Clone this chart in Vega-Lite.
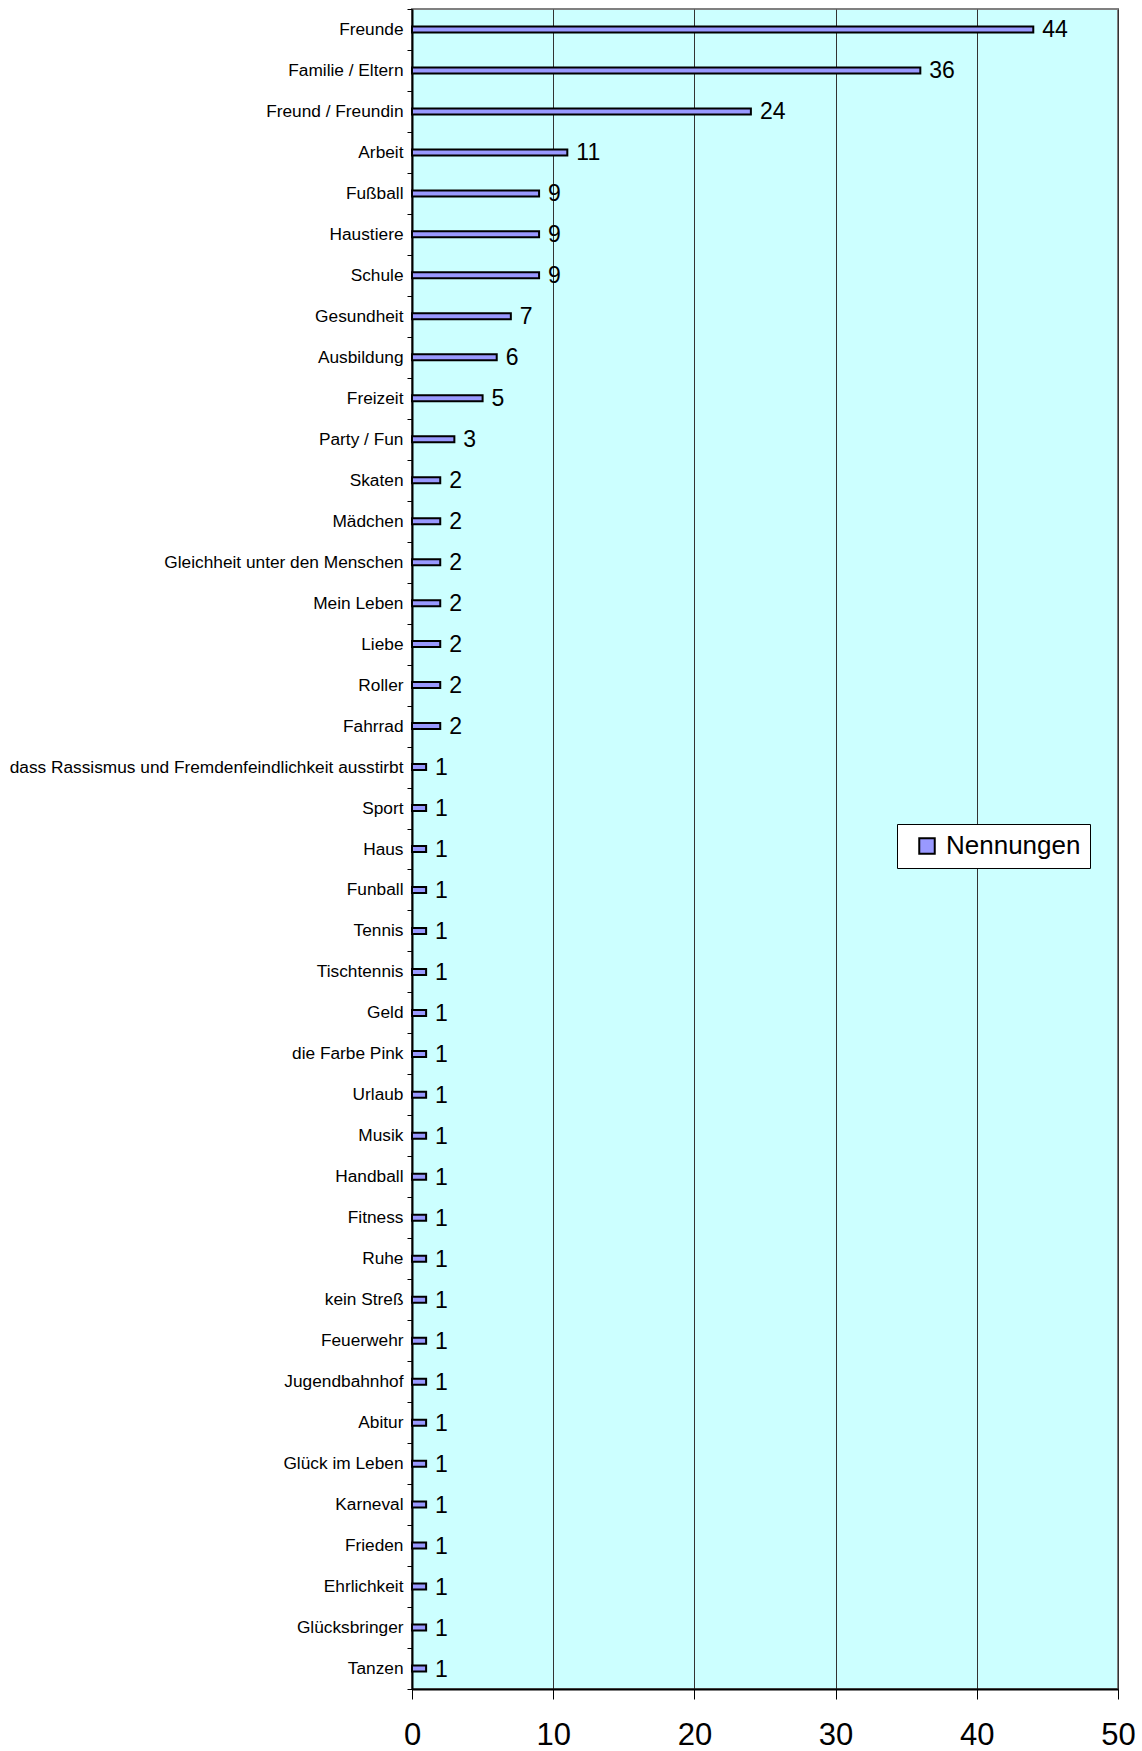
{
  "$schema": "https://vega.github.io/schema/vega-lite/v6.json",
  "autosize": {"type": "none"},
  "padding": {"left": 412, "top": 9, "right": 24, "bottom": 62},
  "width": 706,
  "height": 1680,
  "background": "white",
  "config": {
    "font": "Liberation Sans",
    "view": {"fill": "#CCFFFF", "stroke": "#808080", "strokeWidth": 2}
  },
  "data": {
    "values": [
      {"item": "Freunde", "n": 44, "s": "Nennungen"},
      {"item": "Familie / Eltern", "n": 36, "s": "Nennungen"},
      {"item": "Freund / Freundin", "n": 24, "s": "Nennungen"},
      {"item": "Arbeit", "n": 11, "s": "Nennungen"},
      {"item": "Fußball", "n": 9, "s": "Nennungen"},
      {"item": "Haustiere", "n": 9, "s": "Nennungen"},
      {"item": "Schule", "n": 9, "s": "Nennungen"},
      {"item": "Gesundheit", "n": 7, "s": "Nennungen"},
      {"item": "Ausbildung", "n": 6, "s": "Nennungen"},
      {"item": "Freizeit", "n": 5, "s": "Nennungen"},
      {"item": "Party / Fun", "n": 3, "s": "Nennungen"},
      {"item": "Skaten", "n": 2, "s": "Nennungen"},
      {"item": "Mädchen", "n": 2, "s": "Nennungen"},
      {"item": "Gleichheit unter den Menschen", "n": 2, "s": "Nennungen"},
      {"item": "Mein Leben", "n": 2, "s": "Nennungen"},
      {"item": "Liebe", "n": 2, "s": "Nennungen"},
      {"item": "Roller", "n": 2, "s": "Nennungen"},
      {"item": "Fahrrad", "n": 2, "s": "Nennungen"},
      {"item": "dass Rassismus und Fremdenfeindlichkeit ausstirbt", "n": 1, "s": "Nennungen"},
      {"item": "Sport", "n": 1, "s": "Nennungen"},
      {"item": "Haus ", "n": 1, "s": "Nennungen"},
      {"item": "Funball", "n": 1, "s": "Nennungen"},
      {"item": "Tennis", "n": 1, "s": "Nennungen"},
      {"item": "Tischtennis", "n": 1, "s": "Nennungen"},
      {"item": "Geld", "n": 1, "s": "Nennungen"},
      {"item": "die Farbe Pink", "n": 1, "s": "Nennungen"},
      {"item": "Urlaub", "n": 1, "s": "Nennungen"},
      {"item": "Musik", "n": 1, "s": "Nennungen"},
      {"item": "Handball", "n": 1, "s": "Nennungen"},
      {"item": "Fitness", "n": 1, "s": "Nennungen"},
      {"item": "Ruhe", "n": 1, "s": "Nennungen"},
      {"item": "kein Streß", "n": 1, "s": "Nennungen"},
      {"item": "Feuerwehr", "n": 1, "s": "Nennungen"},
      {"item": "Jugendbahnhof", "n": 1, "s": "Nennungen"},
      {"item": "Abitur", "n": 1, "s": "Nennungen"},
      {"item": "Glück im Leben", "n": 1, "s": "Nennungen"},
      {"item": "Karneval", "n": 1, "s": "Nennungen"},
      {"item": "Frieden", "n": 1, "s": "Nennungen"},
      {"item": "Ehrlichkeit", "n": 1, "s": "Nennungen"},
      {"item": "Glücksbringer", "n": 1, "s": "Nennungen"},
      {"item": "Tanzen", "n": 1, "s": "Nennungen"}
    ]
  },
  "encoding": {
    "y": {
      "field": "item",
      "type": "nominal",
      "sort": null,
      "scale": {"paddingInner": 0, "paddingOuter": 0},
      "axis": {
        "title": null,
        "tickBand": "extent",
        "tickSize": 5,
        "tickColor": "black",
        "labelPadding": 4,
        "labelFontSize": 17.3,
        "labelColor": "black",
        "labelLimit": 500,
        "domainColor": "black",
        "domainWidth": 2,
        "grid": false
      }
    }
  },
  "layer": [
    {
      "mark": {"type": "bar", "size": 6, "stroke": "black", "strokeWidth": 2},
      "encoding": {
        "x": {
          "field": "n",
          "type": "quantitative",
          "scale": {"domain": [0, 50], "nice": false},
          "axis": {
            "title": null,
            "values": [0, 10, 20, 30, 40, 50],
            "grid": true,
            "gridColor": "#333333",
            "gridWidth": 1,
            "gridOpacity": 1,
            "tickSize": 10,
            "tickColor": "black",
            "domainColor": "black",
            "domainWidth": 2,
            "labelFontSize": 31,
            "labelColor": "black",
            "labelPadding": 21,
            "labelFlush": false,
            "labelOverlap": false
          }
        },
        "color": {
          "field": "s",
          "type": "nominal",
          "scale": {"range": ["#9999FF"]},
          "legend": {
            "title": null,
            "orient": "none",
            "legendX": 485,
            "legendY": 815,
            "symbolType": "square",
            "symbolSize": 240,
            "symbolStrokeColor": "black",
            "symbolStrokeWidth": 2,
            "symbolOffset": 8,
            "labelFontSize": 26,
            "labelColor": "black",
            "fillColor": "white",
            "strokeColor": "black",
            "padding": 9,
            "labelOffset": 6
          }
        }
      }
    },
    {
      "mark": {"type": "text", "align": "left", "baseline": "middle", "dx": 9, "dy": 1, "fontSize": 23, "color": "black"},
      "encoding": {
        "x": {"field": "n", "type": "quantitative"},
        "text": {"field": "n", "type": "quantitative"}
      }
    }
  ]
}
